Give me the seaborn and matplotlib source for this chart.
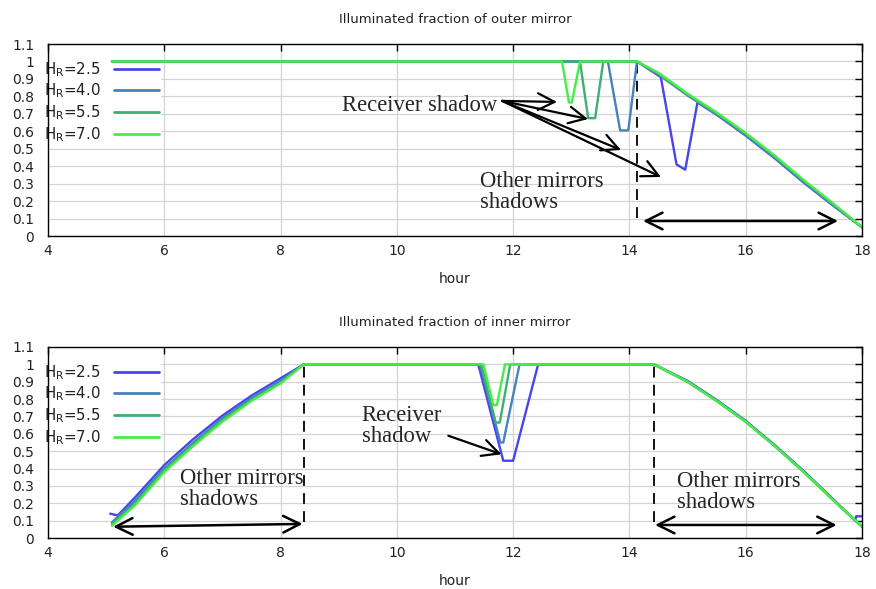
import numpy as np
import pandas as pd
import matplotlib
matplotlib.use("Agg")
import matplotlib.pyplot as plt
from matplotlib.ticker import FuncFormatter, MultipleLocator
import seaborn as sns

# ---------------- data ----------------
series_labels = ["2.5", "4.0", "5.5", "7.0"]
series_colors = ["#4646ee", "#4682bd", "#3caf73", "#44ee44"]

# outer mirror (top panel)
outer_h_25 = [5.1, 14.13, 14.54, 14.81, 14.96, 15.17, 15.5, 16.0, 16.5, 17.0, 17.5, 18.0]
outer_v_25 = [1.0, 1.0, 0.91, 0.41, 0.38, 0.765, 0.695, 0.575, 0.445, 0.305, 0.175, 0.05]
outer_h_40 = [5.1, 13.63, 13.84, 13.98, 14.13, 14.5, 15.0, 15.5, 16.0, 16.5, 17.0, 17.5, 18.0]
outer_v_40 = [1.0, 1.0, 0.605, 0.605, 1.0, 0.925, 0.805, 0.697, 0.578, 0.448, 0.308, 0.178, 0.05]
outer_h_55 = [5.1, 13.15, 13.29, 13.41, 13.55, 14.13, 14.5, 15.0, 15.5, 16.0, 16.5, 17.0, 17.5, 18.0]
outer_v_55 = [1.0, 1.0, 0.675, 0.675, 1.0, 1.0, 0.93, 0.81, 0.703, 0.585, 0.455, 0.315, 0.183, 0.05]
outer_h_70 = [5.1, 12.84, 12.96, 13.01, 13.15, 14.13, 14.5, 15.0, 15.5, 16.0, 16.5, 17.0, 17.5, 18.0]
outer_v_70 = [1.0, 1.0, 0.765, 0.765, 1.0, 1.0, 0.935, 0.815, 0.708, 0.59, 0.46, 0.32, 0.188, 0.05]

# inner mirror (bottom panel)
inner_h_25 = [5.07, 5.2, 5.5, 6.0, 6.5, 7.0, 7.5, 8.0, 8.4, 11.40, 11.83, 12.0, 12.43,
              14.42, 15.0, 15.5, 16.0, 16.5, 17.0, 17.5, 17.88, 17.9, 18.0]
inner_v_25 = [0.14, 0.13, 0.235, 0.42, 0.57, 0.705, 0.82, 0.92, 1.0, 1.0, 0.445, 0.445, 1.0,
              1.0, 0.905, 0.795, 0.675, 0.535, 0.385, 0.225, 0.1, 0.125, 0.125]
inner_h_40 = [5.1, 5.5, 6.0, 6.5, 7.0, 7.5, 8.0, 8.4, 11.43, 11.78, 11.83, 12.11,
              14.42, 15.0, 15.5, 16.0, 16.5, 17.0, 17.5, 18.0]
inner_v_40 = [0.09, 0.215, 0.40, 0.55, 0.69, 0.805, 0.905, 1.0, 1.0, 0.55, 0.55, 1.0,
              1.0, 0.90, 0.79, 0.67, 0.53, 0.38, 0.22, 0.065]
inner_h_55 = [5.1, 5.5, 6.0, 6.5, 7.0, 7.5, 8.0, 8.4, 11.45, 11.70, 11.77, 11.95,
              14.42, 15.0, 15.5, 16.0, 16.5, 17.0, 17.5, 18.0]
inner_v_55 = [0.08, 0.20, 0.39, 0.54, 0.68, 0.795, 0.895, 1.0, 1.0, 0.665, 0.665, 1.0,
              1.0, 0.90, 0.79, 0.67, 0.53, 0.38, 0.22, 0.065]
inner_h_70 = [5.1, 5.5, 6.0, 6.5, 7.0, 7.5, 8.0, 8.4, 11.49, 11.66, 11.72, 11.86,
              14.42, 15.0, 15.5, 16.0, 16.5, 17.0, 17.5, 18.0]
inner_v_70 = [0.07, 0.19, 0.38, 0.53, 0.67, 0.79, 0.89, 1.0, 1.0, 0.765, 0.765, 1.0,
              1.0, 0.90, 0.79, 0.67, 0.53, 0.38, 0.22, 0.065]

titles = ["Illuminated fraction of outer mirror", "Illuminated fraction of inner mirror"]
x_ticks = [4, 6, 8, 10, 12, 14, 16, 18]


def make_df(hs, vs):
    rows = []
    for lab, h, v in zip(series_labels, hs, vs):
        for hh, vv in zip(h, v):
            rows.append({"hour": hh, "frac": vv, "HR": lab})
    return pd.DataFrame(rows)


df_outer = make_df([outer_h_25, outer_h_40, outer_h_55, outer_h_70],
                   [outer_v_25, outer_v_40, outer_v_55, outer_v_70])
df_inner = make_df([inner_h_25, inner_h_40, inner_h_55, inner_h_70],
                   [inner_v_25, inner_v_40, inner_v_55, inner_v_70])

# ---------------- plotting ----------------
sns.set_theme(style="white")
plt.rcParams["font.family"] = ["DejaVu Sans"]

fig = plt.figure(figsize=(8.76, 5.89), dpi=100)
W, H = 876, 589
ax_top = fig.add_axes([48 / W, 1 - 236 / H, (862 - 48) / W, (236 - 44) / H])
ax_bot = fig.add_axes([48 / W, 1 - 538 / H, (862 - 48) / W, (538 - 347) / H])

palette = dict(zip(series_labels, series_colors))
SERIF = ["Liberation Serif", "DejaVu Serif"]
FS_SERIF = 16.3
arrow_kw = dict(arrowstyle="->,head_length=0.6,head_width=0.3", lw=1.6, color="black",
                shrinkA=0, shrinkB=0, mutation_scale=20)
darrow_kw = dict(arrowstyle="<->,head_length=0.6,head_width=0.3", lw=1.8, color="black",
                 shrinkA=0, shrinkB=0, mutation_scale=20)

for ax, df, title in [(ax_top, df_outer, titles[0]), (ax_bot, df_inner, titles[1])]:
    sns.lineplot(data=df, x="hour", y="frac", hue="HR", palette=palette,
                 hue_order=series_labels, estimator=None, sort=False, lw=1.7, ax=ax)
    for ln in ax.get_lines():
        ln.set_zorder(3)
    ax.set_xlim(4, 18)
    ax.set_ylim(0, 1.1)
    ax.set_xticks(x_ticks)
    ax.yaxis.set_major_locator(MultipleLocator(0.1))
    ax.yaxis.set_major_formatter(FuncFormatter(lambda v, p: f"{round(v, 1):g}"))
    ax.grid(True, color="#d4d4d4", lw=0.9)
    ax.set_axisbelow(True)
    for s in ax.spines.values():
        s.set_color("black")
        s.set_linewidth(1.0)
        s.set_visible(True)
        s.set_zorder(4)
    ax.tick_params(direction="in", top=True, right=True, length=5, width=1,
                   colors="black", labelsize=10, labelcolor="#222222")
    ax.tick_params(axis="y", pad=10)
    ax.tick_params(axis="x", pad=6)
    ax.set_xlabel("hour", fontsize=10, labelpad=10, color="#222222")
    ax.set_ylabel("")
    ax.set_title(title, fontsize=9.5, pad=15, color="#222222")
    handles, labels = ax.get_legend_handles_labels()
    leg = ax.legend(handles, [rf"H$_\mathrm{{R}}$={l}" for l in labels], loc="upper left",
                    bbox_to_anchor=(-0.007, 0.925), borderaxespad=0, frameon=True,
                    fancybox=False, edgecolor="white", facecolor="white", framealpha=1,
                    markerfirst=False, handlelength=3.0, handletextpad=0.9,
                    labelspacing=0.2, fontsize=10.8, borderpad=0.1)
    leg.set_zorder(2.5)
    for t in leg.get_texts():
        t.set_color("#222222")
    for lh in leg.get_lines():
        lh.set_linewidth(2.0)

# ---- top annotations ----
ax = ax_top
ax.text(9.057, 0.716, "Receiver shadow", family=SERIF, fontsize=FS_SERIF, ha="left", va="baseline")
tail = (11.81, 0.774)
for head in [(12.755, 0.768), (13.288, 0.670), (13.855, 0.493), (14.543, 0.338)]:
    ax.annotate("", xy=head, xytext=tail, arrowprops=arrow_kw)
ax.text(11.43, 0.252, "Other mirrors\nshadows", family=SERIF, fontsize=FS_SERIF,
        ha="left", va="center", linespacing=0.95)
ax.plot([14.13, 14.13], [0.103, 1.026], color="black", lw=1.3, dashes=(6, 4))
ax.annotate("", xy=(17.588, 0.086), xytext=(14.234, 0.086), arrowprops=darrow_kw)

# ---- bottom annotations ----
ax = ax_bot
ax.plot([8.40, 8.40], [0.092, 1.002], color="black", lw=1.3, dashes=(6, 4))
ax.annotate("", xy=(8.38, 0.081), xytext=(5.12, 0.065), arrowprops=darrow_kw)
ax.text(6.27, 0.282, "Other mirrors\nshadows", family=SERIF, fontsize=FS_SERIF,
        ha="left", va="center", linespacing=0.95)
ax.text(9.396, 0.645, "Receiver\nshadow", family=SERIF, fontsize=FS_SERIF,
        ha="left", va="center", linespacing=0.95)
ax.annotate("", xy=(11.80, 0.482), xytext=(10.885, 0.589), arrowprops=arrow_kw)
ax.plot([14.42, 14.42], [0.092, 1.002], color="black", lw=1.3, dashes=(6, 4))
ax.annotate("", xy=(17.565, 0.075), xytext=(14.44, 0.075), arrowprops=darrow_kw)
ax.text(14.81, 0.265, "Other mirrors\nshadows", family=SERIF, fontsize=FS_SERIF,
        ha="left", va="center", linespacing=0.95)

fig.savefig("out.png", dpi=100)
